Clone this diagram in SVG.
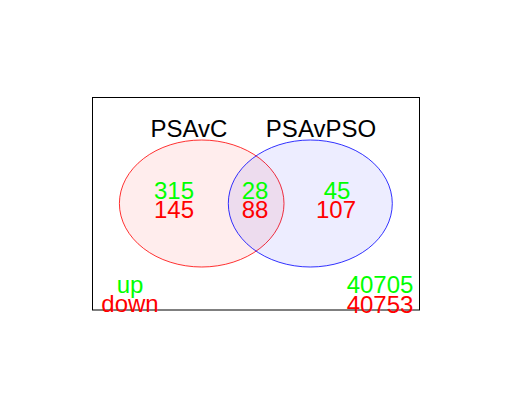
<svg xmlns="http://www.w3.org/2000/svg" width="512" height="409" viewBox="0 0 512 409">
<style>
text{font-family:"Liberation Sans",Arial,sans-serif;font-size:24px;text-anchor:middle}
.g{fill:#00ff00}.r{fill:#ff0000}.k{fill:#000000}
</style>
<rect width="512" height="409" fill="#ffffff"/>
<g id="frame"><rect x="92.5" y="97.5" width="327" height="212.5" fill="none" stroke="#000" stroke-width="1"/></g>
<g id="setA">
<ellipse cx="201.7" cy="203.5" rx="82.3" ry="63.5" fill="#ff0000" fill-opacity="0.07" stroke="#ff0000" stroke-opacity="0.8" stroke-width="1"/>
<text x="189" y="137" class="k">PSAvC</text>
</g>
<g id="setB">
<ellipse cx="310.3" cy="203.5" rx="82" ry="63.5" fill="#0000ff" fill-opacity="0.07" stroke="#0000ff" stroke-opacity="0.8" stroke-width="1"/>
<text x="321" y="137" class="k">PSAvPSO</text>
</g>
<g id="connectors"/>
<g id="counts">
<text x="174" y="199" class="g">315</text>
<text x="174" y="218" class="r">145</text>
<text x="255" y="199" class="g">28</text>
<text x="255" y="218" class="r">88</text>
<text x="337" y="199" class="g">45</text>
<text x="336" y="218" class="r">107</text>
</g>
<g id="legend">
<text x="130" y="293" class="g">up</text>
<text x="130" y="312" class="r">down</text>
<text x="380" y="293" class="g">40705</text>
<text x="380" y="312.5" class="r">40753</text>
</g>
</svg>
